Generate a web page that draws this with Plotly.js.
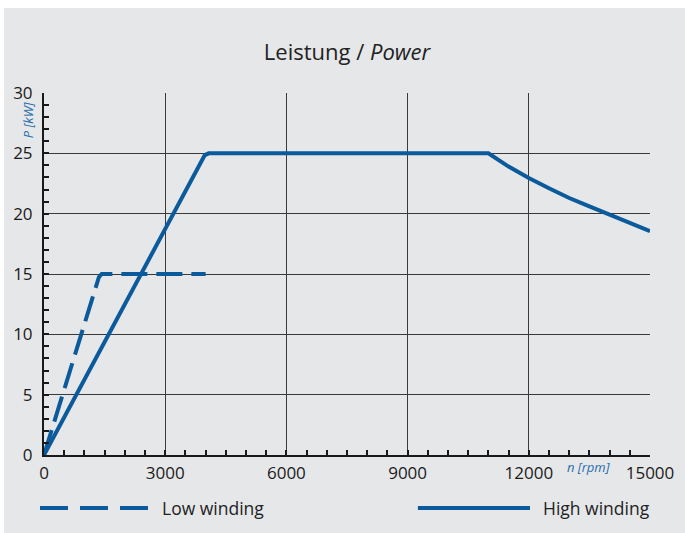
<!DOCTYPE html>
<html>
<head>
<meta charset="utf-8">
<script src="https://cdn.plot.ly/plotly-3.0.1.min.js"></script>
<style>
  html, body { margin: 0; padding: 0; background: #ffffff; }
  #chart { position: absolute; left: 4px; top: 8px; width: 681px; height: 525px; }
</style>
</head>
<body>
<div id="chart"></div>
<script>
// ---- data ----
const lowRpm  = [0, 1300, 1360, 1430, 4000];
const lowP    = [0, 14.1, 14.75, 15, 15];
const highRpm = [0, 3900, 3980, 4080, 11000, 11500, 12000, 12500, 13000, 13500, 14000, 14500, 15000];
const highP   = [0, 24.4, 24.85, 25, 25, 23.9, 22.95, 22.1, 21.3, 20.6, 19.9, 19.2, 18.55];
const xTicks  = [0, 3000, 6000, 9000, 12000, 15000];
const yTicks  = [0, 5, 10, 15, 20, 25, 30];
const seriesNames = ["Low winding", "High winding"];
const titleText = "Leistung / <i>Power</i>";
const yLabel = "<i>P [kW]</i>";
const xLabel = "<i>n [rpm]</i>";

// ---- style ----
const BLUE = "#0b5a9b";
const BG = "#e6e7e9";
const FONT = "Open Sans, Noto Sans, sans-serif";

const traces = [
  { x: lowRpm, y: lowP, mode: "lines", name: seriesNames[0],
    line: { color: BLUE, width: 4, dash: "26px,9px" }, showlegend: false, hoverinfo: "skip" },
  { x: highRpm, y: highP, mode: "lines", name: seriesNames[1],
    line: { color: BLUE, width: 4 }, showlegend: false, hoverinfo: "skip" }
];

const axisCommon = {
  showline: true, linecolor: "#1a1a1a", linewidth: 2,
  showgrid: true, gridcolor: "#3a3a3a", gridwidth: 1,
  ticks: "inside", ticklen: 0, tickcolor: "#1a1a1a",
  zeroline: false, fixedrange: true,
  tickfont: { family: FONT, size: 17, color: "#1a1a1a" }
};

const layout = {
  width: 681, height: 525,
  paper_bgcolor: BG, plot_bgcolor: BG,
  margin: { l: 40, r: 35, t: 85, b: 78 },
  font: { family: FONT, color: "#1a1a1a" },
  title: { text: titleText, font: { family: FONT, size: 22, color: "#222" },
           x: 0.5, xref: "paper", y: 1 - 44 / 525, yref: "container", yanchor: "middle" },
  xaxis: Object.assign({}, axisCommon, {
    range: [0, 15000], tickvals: xTicks, ticktext: xTicks.map(String),
    minor: { dtick: 500, ticks: "inside", ticklen: 5, tickwidth: 2, tickcolor: "#1a1a1a", showgrid: false },
    ticklabelstandoff: 2
  }),
  yaxis: Object.assign({}, axisCommon, {
    range: [0, 30], tickvals: yTicks, ticktext: yTicks.map(String),
    minor: { dtick: 1, ticks: "inside", ticklen: 5, tickwidth: 2, tickcolor: "#1a1a1a", showgrid: false },
    ticklabelstandoff: 6
  }),
  showlegend: false,
  annotations: [
    { text: yLabel, xref: "paper", yref: "paper", x: -16 / 606, y: 0.925, textangle: -90,
      showarrow: false, font: { family: FONT, size: 13, color: "#2b6fae" }, xanchor: "center", yanchor: "middle" },
    { text: xLabel, xref: "paper", yref: "paper", x: 0.898, y: -0.033,
      showarrow: false, font: { family: FONT, size: 13, color: "#2b6fae" }, xanchor: "center", yanchor: "middle" },
    { text: seriesNames[0], xref: "paper", yref: "paper", x: 0.1914, y: -0.1464,
      showarrow: false, font: { family: FONT, size: 17.5, color: "#222" }, xanchor: "left", yanchor: "middle" },
    { text: seriesNames[1], xref: "paper", yref: "paper", x: 0.820, y: -0.1464,
      showarrow: false, font: { family: FONT, size: 17.5, color: "#222" }, xanchor: "left", yanchor: "middle" }
  ],
  shapes: [
    { type: "line", xref: "paper", yref: "paper", x0: -0.0066, x1: 0.1716, y0: -0.1464, y1: -0.1464,
      line: { color: BLUE, width: 4, dash: "28px,12px" } },
    { type: "line", xref: "paper", yref: "paper", x0: 0.617, x1: 0.802, y0: -0.1464, y1: -0.1464,
      line: { color: BLUE, width: 4 } }
  ]
};

Plotly.newPlot("chart", traces, layout, { displayModeBar: false, staticPlot: true });
</script>
</body>
</html>
